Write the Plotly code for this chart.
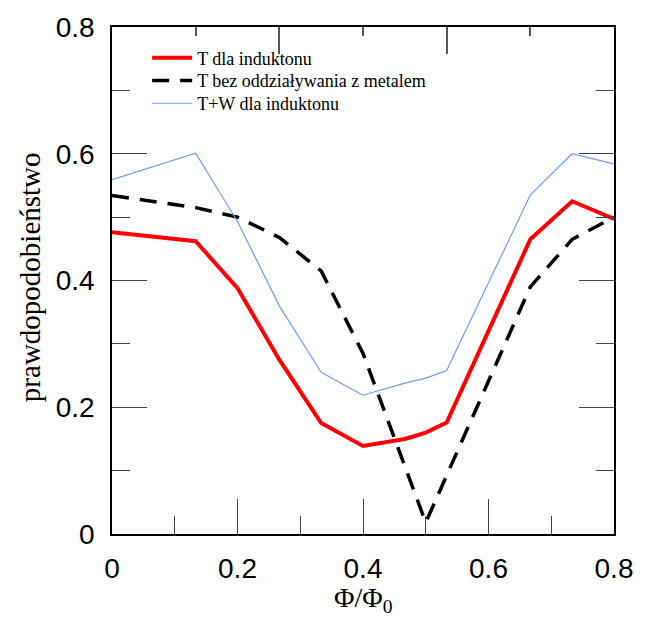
import plotly.graph_objects as go

# Flux ratio Phi/Phi0 at which the probabilities were computed
phi = [0, 2/15, 3/15, 4/15, 5/15, 6/15, 7/15, 7.5/15, 8/15, 10/15, 11/15, 12/15]

# T for the inducton
t_ind = [0.476, 0.462, 0.388, 0.275, 0.175, 0.139, 0.150, 0.160, 0.176, 0.465, 0.525, 0.497]
# T without the metal interaction
phi_free = [0, 2/15, 3/15, 4/15, 5/15, 6/15, 7.5/15, 10/15, 11/15, 12/15]
t_free = [0.534, 0.515, 0.500, 0.468, 0.415, 0.285, 0.018, 0.390, 0.465, 0.500]
# T+W for the inducton
tw_ind = [0.559, 0.601, 0.493, 0.360, 0.255, 0.219, 0.238, 0.246, 0.258, 0.535, 0.600, 0.584]

y_ticks = [0, 0.2, 0.4, 0.6, 0.8]
x_ticks = [0, 0.2, 0.4, 0.6, 0.8]
tick_text = ["0", "0.2", "0.4", "0.6", "0.8"]

SERIF = "Liberation Serif"
SANS = "Liberation Sans"

fig = go.Figure()
fig.add_trace(go.Scatter(x=phi, y=t_ind, mode="lines", name="T dla induktonu",
                         legend="legend",
                         line=dict(color="#ff0000", width=4)))
fig.add_trace(go.Scatter(x=phi_free, y=t_free, mode="lines",
                         name="T bez oddziaływania z metalem", legend="legend2",
                         line=dict(color="#000000", width=3.5, dash="17px,11px")))
fig.add_trace(go.Scatter(x=phi, y=tw_ind, mode="lines", name="T+W dla induktonu",
                         legend="legend3",
                         line=dict(color="#6f9cf0", width=1.2)))
# empty trace so the top axis gets drawn
fig.add_trace(go.Scatter(x=[0], y=[None], xaxis="x2", showlegend=False, hoverinfo="skip"))


def legend_at(y):
    return dict(x=0.07, y=y, xanchor="left", yanchor="middle",
                bgcolor="rgba(0,0,0,0)", borderwidth=0,
                font=dict(family=SERIF, size=18, color="black"), itemwidth=40)


fig.update_layout(
    width=645, height=617,
    margin=dict(l=112, r=22, t=22, b=83),
    paper_bgcolor="white", plot_bgcolor="white",
    showlegend=True,
    legend=legend_at(0.939),
    legend2=legend_at(0.894),
    legend3=legend_at(0.849),
    xaxis=dict(range=[0, 0.8], tickvals=x_ticks, ticktext=tick_text,
               ticks="inside", ticklen=35, tickwidth=1, tickcolor="#444",
               minor=dict(dtick=0.1, tick0=0, ticks="inside", ticklen=18, tickwidth=1,
                          tickcolor="#444", showgrid=False),
               showline=True, linecolor="black", linewidth=1.5, mirror=True,
               showgrid=False, zeroline=False,
               tickfont=dict(family=SANS, size=28, color="black"),
               ticklabelstandoff=9),
    xaxis2=dict(range=[0, 0.6], overlaying="x", side="top", anchor="y",
                tickvals=[0.2, 0.4], ticks="inside", ticklen=27, tickwidth=1.5,
                tickcolor="#555", showticklabels=False,
                minor=dict(tickvals=[0.1, 0.3, 0.5], ticks="inside", ticklen=9,
                           tickwidth=1.5, tickcolor="#555", showgrid=False),
                showline=False, showgrid=False, zeroline=False),
    yaxis=dict(range=[0, 0.8], tickvals=y_ticks, ticktext=tick_text,
               ticks="inside", ticklen=35, tickwidth=1, tickcolor="#444",
               minor=dict(dtick=0.1, tick0=0, ticks="inside", ticklen=18, tickwidth=1,
                          tickcolor="#444", showgrid=False),
               showline=True, linecolor="black", linewidth=1.5, mirror="ticks",
               showgrid=False, zeroline=False,
               tickfont=dict(family=SANS, size=28, color="black"),
               ticklabelstandoff=10),
    annotations=[
        dict(text="prawdopodobieństwo", xref="paper", yref="paper", x=-0.163, y=0.507,
             textangle=-90, showarrow=False, xanchor="center", yanchor="middle",
             font=dict(family=SERIF, size=29, color="black")),
        dict(text="Φ/Φ<sub>0</sub>", xref="paper", yref="paper", x=0.5, y=-0.13,
             showarrow=False, xanchor="center", yanchor="middle",
             font=dict(family=SERIF, size=28, color="black")),
    ],
)

fig.write_html("out.html")
